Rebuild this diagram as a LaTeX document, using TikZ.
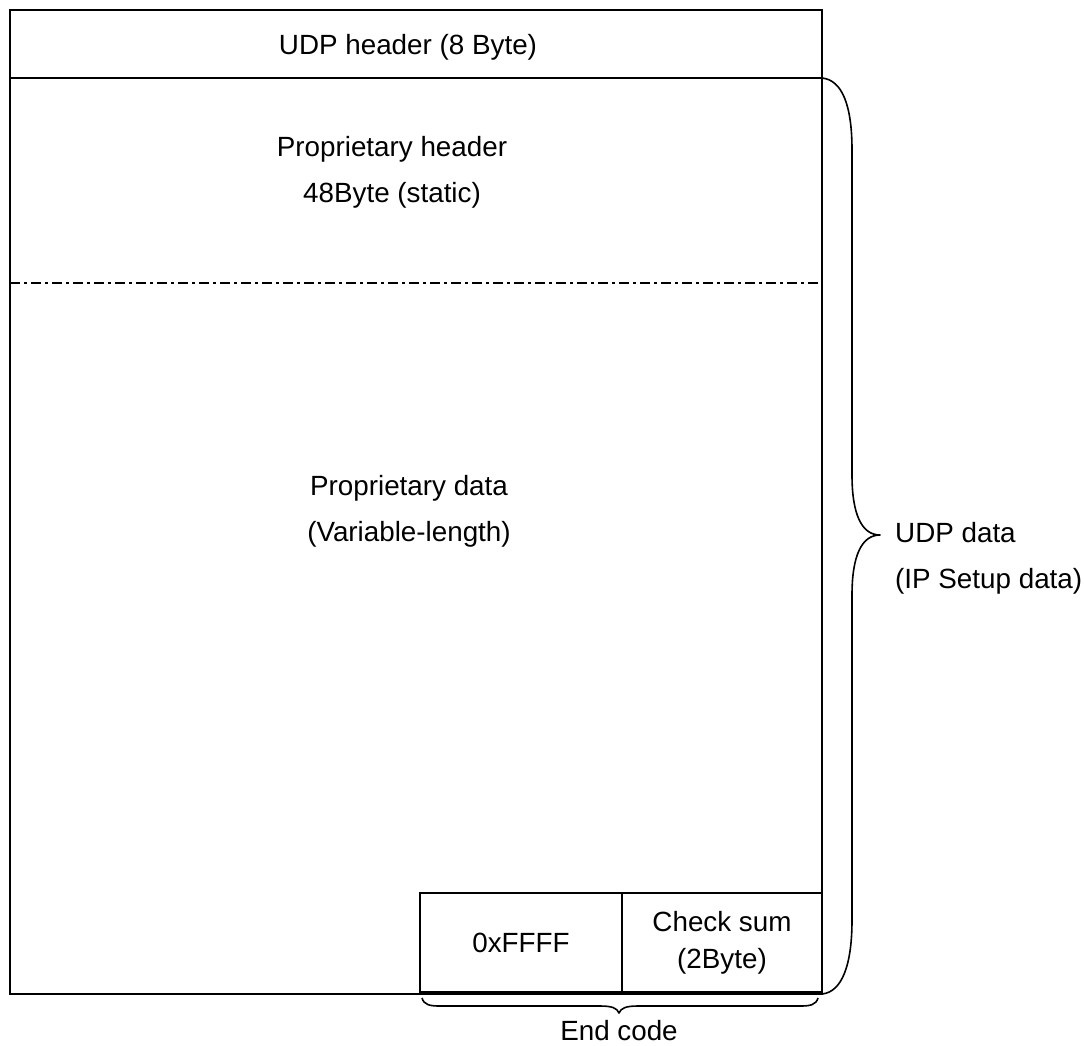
\documentclass[tikz,border=0pt]{standalone}
\usepackage{fontspec}
\setmainfont{Liberation Sans}
\usetikzlibrary{positioning,calc}

\begin{document}
\begin{tikzpicture}[x=1pt,y=-1pt,
  label/.style={font=\fontsize{27.8}{46}\selectfont,align=center,inner sep=0},
  field/.style={draw,line width=2.4pt,minimum height=99pt,inner sep=0,outer sep=0,font=\fontsize{27.8}{37}\selectfont,align=center},
  frame/.style={line width=2.3pt},
  curly/.style={line width=1.6pt,line join=round}]
\useasboundingbox (0,0) rectangle (1084,1046);
% packet frame
\draw[frame] (10,10) rectangle (822,994);
\draw[frame] (10,78) -- (822,78);
\draw[line width=1.6pt,dash pattern=on 10pt off 4pt on 3pt off 4pt] (10,283) -- (822,283);
\node[label,anchor=base] (udphead) at (408,55) {UDP header (8 Byte)};
\node[label] (prophead) at (392,172) {Proprietary header\\48Byte (static)};
\node[label] (propdata) at (409,511) {Proprietary data\\(Variable-length)};
% end code fields
\node[field,minimum width=202pt] (ffff) at (521,942.5) {0xFFFF};
\node[field,minimum width=200pt,right=0pt of ffff] (chksum) {Check sum\\(2Byte)};
% braces
\draw[curly] (822,78) .. controls (842,80) and (852,105) .. (852,150) -- (852,475)
  .. controls (852,515) and (862,535) .. (880,535)
  .. controls (862,535) and (852,555) .. (852,595) -- (852,920)
  .. controls (852,965) and (842,992) .. (822,994);
\node[label,align=left,anchor=west] (udpdata) at (895,558.5) {UDP data\\(IP Setup data)};
\draw[curly] (422,998) .. controls (424,1005) and (430,1006) .. (440,1006) -- (600,1006)
  .. controls (612,1006) and (617,1008) .. (619,1013)
  .. controls (621,1008) and (626,1006) .. (638,1006) -- (800,1006)
  .. controls (810,1006) and (816,1005) .. (818,998);
\node[label,anchor=base] (endcode) at (619,1040) {End code};
\end{tikzpicture}
\end{document}
